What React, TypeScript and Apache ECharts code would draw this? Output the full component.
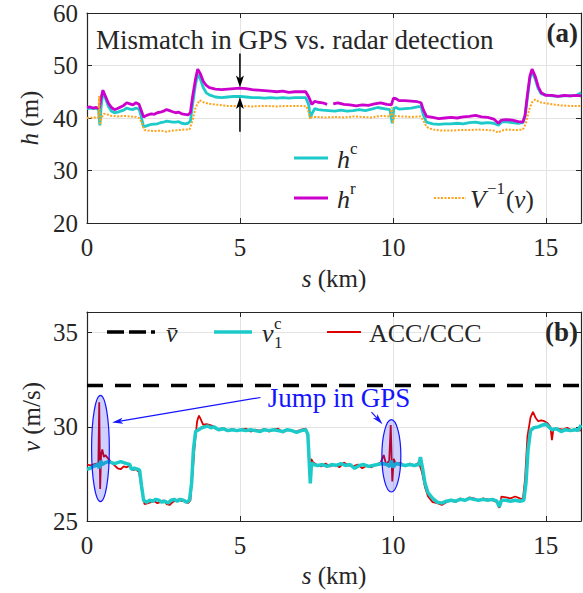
import React, { useEffect, useRef } from 'react';
import * as echarts from 'echarts';

const FONT = '"Liberation Serif", "Times New Roman", serif';
const AX = '#262626';
const GRIDC = '#e3e3e3';
const CYAN = '#1ccaca';
const MAGENTA = '#cc00cc';
const ORANGE = '#ffa31a';
const RED = '#dd0000';
const BLUE = '#1414ff';

const sMax = 16.15;
const xTickStep = 5;
const hMin = 20;
const hMax = 60;
const hStep = 10;
const vMin = 25;
const vMax = 36.1;
const vStep = 5;
const vBar = 32.2;

// (a) headway h^c (GPS)
const hcData: (number | string)[][] = [
  [0.0, 41.8], [0.1, 41.9], [0.2, 41.8], [0.3, 41.9], [0.38, 41.5], [0.42, 38.6], [0.46, 42.0], [0.52, 45.0],
  [0.6, 43.8], [0.7, 42.2], [0.8, 41.3], [0.9, 41.0], [1.0, 41.1], [1.1, 41.3], [1.2, 41.5], [1.3, 41.9],
  [1.4, 41.7], [1.5, 41.6], [1.6, 41.9], [1.7, 41.7], [1.75, 40.8], [1.85, 38.3], [1.95, 38.5], [2.1, 38.8],
  [2.3, 38.9], [2.4, 39.1], [2.5, 39.2], [2.6, 39.4], [2.7, 39.3], [2.8, 39.2], [2.9, 39.2], [3.0, 39.3],
  [3.1, 39.0], [3.2, 38.9], [3.3, 39.0], [3.38, 39.4], [3.45, 42.5], [3.55, 46.5], [3.62, 48.3], [3.7, 47.5],
  [3.8, 45.8], [3.9, 44.8], [4.0, 44.4], [4.2, 44.0], [4.4, 43.9], [4.6, 44.0], [4.8, 44.1], [5.0, 44.1],
  [5.2, 44.0], [5.4, 43.9], [5.6, 43.9], [5.8, 43.8], [6.0, 43.9], [6.2, 43.8], [6.4, 43.9], [6.6, 43.8],
  [6.8, 43.9], [7.0, 43.9], [7.15, 43.9], [7.25, 42.5], [7.3, 40.0], [7.35, 40.8], [7.45, 41.8], [7.55, 41.6],
  [7.7, 41.5], [7.9, 41.4], [8.1, 41.3], [8.3, 41.5], [8.5, 41.3], [8.7, 41.4], [8.9, 41.6], [9.1, 41.4],
  [9.3, 41.7], [9.5, 42.0], [9.7, 41.8], [9.9, 41.6], [9.98, 39.0], [10.03, 41.8], [10.1, 42.0], [10.2, 41.7],
  [10.4, 41.8], [10.6, 41.9], [10.8, 42.1], [10.92, 42.2], [11.0, 40.5], [11.1, 39.2], [11.3, 38.9], [11.5, 38.8],
  [11.7, 38.9], [11.9, 38.9], [12.1, 39.0], [12.3, 38.9], [12.5, 39.1], [12.7, 39.2], [12.9, 39.0], [13.1, 39.1],
  [13.3, 39.0], [13.45, 38.6], [13.55, 39.2], [13.7, 39.3], [13.9, 39.1], [14.1, 39.0], [14.25, 39.1], [14.32, 40.3],
  [14.4, 44.0], [14.48, 47.5], [14.55, 48.8], [14.65, 47.5], [14.75, 45.6], [14.85, 44.6], [15.0, 44.4], [15.2, 44.2],
  [15.4, 44.1], [15.6, 44.2], [15.8, 44.2], [16.0, 44.3], [16.15, 44.8],
];

// (a) headway h^r (radar)
const hrData: (number | string)[][] = [
  [0.0, 42.0], [0.1, 42.1], [0.2, 41.9], [0.3, 42.0], [0.4, 41.8], [0.45, 43.5], [0.52, 45.3], [0.6, 44.2],
  [0.7, 42.8], [0.8, 42.0], [0.9, 41.6], [1.0, 41.8], [1.1, 42.1], [1.2, 42.4], [1.3, 42.9], [1.4, 42.7],
  [1.5, 42.5], [1.6, 42.9], [1.7, 42.6], [1.75, 41.8], [1.85, 40.2], [1.95, 40.5], [2.1, 40.8], [2.2, 40.7],
  [2.3, 41.0], [2.4, 41.1], [2.5, 41.3], [2.6, 41.6], [2.7, 41.4], [2.8, 41.2], [2.9, 41.0], [3.0, 41.1],
  [3.1, 40.8], [3.2, 40.7], [3.3, 40.6], [3.38, 41.0], [3.45, 44.0], [3.55, 47.5], [3.62, 49.3], [3.7, 48.5],
  [3.8, 47.0], [3.9, 46.2], [4.0, 45.8], [4.2, 45.5], [4.4, 45.4], [4.6, 45.5], [4.8, 45.6], [5.0, 45.7],
  [5.2, 45.6], [5.4, 45.4], [5.6, 45.3], [5.8, 45.2], [6.0, 45.1], [6.2, 45.0], [6.4, 45.1], [6.6, 44.9],
  [6.8, 45.0], [7.0, 45.0], [7.15, 45.0], [7.25, 44.0], [7.35, 42.6], [7.45, 43.2], [7.55, 43.0], [7.7, 42.9],
  [7.85, 42.6], [7.95, '-'], [8.05, 42.7], [8.2, 42.9], [8.4, 42.6], [8.6, 42.5], [8.8, 42.3], [9.0, 42.5],
  [9.2, 42.4], [9.4, 42.7], [9.6, 42.9], [9.8, 42.6], [9.95, 42.5], [10.02, 43.8], [10.1, 43.7], [10.2, 43.3],
  [10.4, 43.3], [10.6, 43.2], [10.8, 43.1], [10.92, 42.9], [11.0, 41.5], [11.1, 40.3], [11.3, 40.1], [11.5, 39.9],
  [11.7, 40.0], [11.9, 40.1], [12.1, 40.0], [12.3, 40.2], [12.5, 40.3], [12.7, 40.5], [12.9, 40.2], [13.1, 40.1],
  [13.3, 39.8], [13.45, 39.0], [13.55, 39.6], [13.7, 39.7], [13.9, 39.6], [14.1, 39.3], [14.25, 39.2], [14.32, 40.5],
  [14.4, 44.5], [14.48, 48.0], [14.55, 49.3], [14.65, 48.0], [14.75, 46.0], [14.85, 44.8], [15.0, 44.3], [15.2, 44.3],
  [15.4, 44.1], [15.6, 44.3], [15.8, 44.2], [16.0, 44.3], [16.15, 44.2],
];

// (a) V^{-1}(v)
const vInvData: (number | string)[][] = [
  [0.0, 40.0], [0.1, 40.1], [0.2, 40.0], [0.3, 40.2], [0.37, 40.1], [0.4, 44.2], [0.43, 38.7], [0.47, 40.0],
  [0.55, 40.8], [0.65, 40.7], [0.8, 40.4], [1.0, 40.3], [1.2, 40.4], [1.4, 40.3], [1.6, 40.2], [1.7, 40.0],
  [1.78, 39.2], [1.88, 37.7], [2.0, 37.6], [2.2, 37.5], [2.4, 37.6], [2.6, 37.4], [2.8, 37.6], [3.0, 37.7],
  [3.2, 37.8], [3.35, 37.8], [3.45, 39.5], [3.55, 42.0], [3.68, 43.4], [3.8, 43.0], [4.0, 42.7], [4.3, 42.5],
  [4.6, 42.3], [5.0, 42.3], [5.4, 42.2], [5.8, 42.3], [6.2, 42.2], [6.6, 42.3], [7.0, 42.3], [7.18, 42.2],
  [7.25, 41.0], [7.3, 39.8], [7.35, 40.2], [7.5, 40.2], [7.8, 40.1], [8.1, 40.2], [8.4, 40.1], [8.7, 40.3],
  [9.0, 40.2], [9.3, 40.1], [9.6, 40.4], [9.9, 40.3], [9.97, 42.0], [10.0, 39.0], [10.05, 40.4], [10.3, 40.3],
  [10.6, 40.2], [10.9, 40.3], [11.0, 39.5], [11.1, 38.3], [11.3, 37.8], [11.6, 37.6], [11.9, 37.6], [12.2, 37.7],
  [12.5, 37.7], [12.8, 37.8], [13.1, 37.7], [13.3, 37.6], [13.45, 37.2], [13.55, 37.6], [13.7, 37.8], [14.0, 37.7],
  [14.25, 37.8], [14.35, 39.0], [14.45, 41.5], [14.55, 43.0], [14.65, 43.5], [14.8, 43.0], [15.0, 42.8], [15.2, 42.6],
  [15.5, 42.4], [15.8, 42.3], [16.15, 42.3],
];

// (b) v_1^c
const v1cData: number[][] = [
  [0.0, 27.75], [0.1, 27.8], [0.2, 27.9], [0.3, 27.95], [0.35, 28.05], [0.4, 27.8], [0.45, 28.2], [0.5, 28.0],
  [0.6, 28.1], [0.7, 28.15], [0.8, 28.1], [0.9, 28.05], [1.0, 28.1], [1.1, 28.15], [1.2, 28.1], [1.3, 28.05],
  [1.4, 28.0], [1.45, 27.75], [1.55, 27.8], [1.65, 27.75], [1.72, 27.7], [1.78, 26.9], [1.85, 26.1], [1.95, 26.0],
  [2.05, 26.1], [2.15, 26.05], [2.25, 26.15], [2.35, 26.1], [2.45, 26.0], [2.55, 26.05], [2.65, 25.95], [2.75, 26.1],
  [2.85, 26.15], [2.95, 26.05], [3.05, 26.15], [3.15, 26.1], [3.25, 26.0], [3.35, 26.1], [3.42, 27.0], [3.48, 28.8],
  [3.55, 29.75], [3.65, 29.85], [3.75, 29.95], [3.85, 30.0], [3.95, 30.05], [4.05, 29.95], [4.15, 30.0], [4.3, 29.85],
  [4.45, 29.9], [4.6, 29.8], [4.75, 29.85], [4.9, 29.8], [5.05, 29.85], [5.2, 29.8], [5.35, 29.85], [5.5, 29.8],
  [5.65, 29.75], [5.8, 29.85], [5.95, 29.8], [6.1, 29.85], [6.25, 29.8], [6.4, 29.75], [6.55, 29.85], [6.7, 29.8],
  [6.85, 29.7], [7.0, 29.8], [7.15, 29.85], [7.22, 29.6], [7.26, 28.3], [7.3, 27.0], [7.34, 28.1], [7.4, 28.0],
  [7.55, 27.95], [7.7, 28.0], [7.85, 27.9], [8.0, 28.0], [8.15, 27.95], [8.3, 28.05], [8.45, 27.95], [8.6, 28.0],
  [8.75, 27.8], [8.9, 27.95], [9.05, 28.0], [9.2, 27.9], [9.35, 27.95], [9.5, 28.0], [9.65, 28.05], [9.8, 28.0],
  [9.9, 27.9], [9.95, 28.2], [10.0, 27.85], [10.1, 28.05], [10.25, 28.0], [10.4, 27.95], [10.55, 28.0], [10.7, 27.95],
  [10.85, 28.0], [10.9, 28.4], [10.97, 27.8], [11.05, 27.0], [11.15, 26.5], [11.3, 26.2], [11.45, 26.0], [11.6, 25.95],
  [11.75, 26.05], [11.9, 26.1], [12.05, 26.05], [12.2, 26.15], [12.35, 26.1], [12.5, 26.2], [12.65, 26.15], [12.8, 26.1],
  [12.95, 26.15], [13.1, 26.1], [13.25, 26.15], [13.4, 26.05], [13.48, 25.75], [13.55, 26.1], [13.7, 26.1], [13.85, 26.05],
  [14.0, 26.1], [14.15, 26.05], [14.28, 26.1], [14.35, 27.0], [14.42, 28.8], [14.5, 29.8], [14.6, 29.95], [14.75, 30.0],
  [14.9, 30.1], [15.0, 30.15], [15.1, 30.0], [15.2, 29.85], [15.35, 29.9], [15.5, 29.75], [15.65, 29.85], [15.8, 29.8],
  [15.95, 29.85], [16.05, 29.8], [16.15, 30.1],
];

// (b) ACC/CCC
const accData: number[][] = [
  [0.0, 28.0], [0.1, 27.95], [0.2, 28.0], [0.3, 28.05], [0.37, 27.9], [0.4, 31.3], [0.43, 26.7], [0.46, 28.5],
  [0.5, 28.8], [0.55, 28.4], [0.6, 28.5], [0.7, 28.3], [0.8, 28.1], [0.9, 27.95], [1.0, 27.8], [1.1, 27.75],
  [1.2, 27.9], [1.3, 27.85], [1.4, 27.95], [1.5, 27.7], [1.6, 27.75], [1.7, 27.6], [1.78, 26.8], [1.88, 25.9],
  [2.0, 25.95], [2.1, 26.0], [2.2, 26.05], [2.3, 25.95], [2.4, 26.0], [2.5, 26.1], [2.6, 25.9], [2.7, 25.85],
  [2.8, 26.0], [2.9, 26.1], [3.0, 26.15], [3.1, 26.05], [3.2, 26.1], [3.3, 25.95], [3.38, 26.1], [3.45, 27.5],
  [3.52, 29.0], [3.6, 30.3], [3.66, 30.6], [3.72, 30.4], [3.8, 30.1], [3.9, 30.15], [4.0, 30.1], [4.1, 30.05],
  [4.2, 29.9], [4.3, 29.85], [4.45, 29.95], [4.6, 29.8], [4.75, 29.9], [4.9, 29.8], [5.05, 29.85], [5.2, 29.9],
  [5.35, 29.75], [5.5, 29.85], [5.65, 29.8], [5.8, 29.9], [5.95, 29.75], [6.1, 29.85], [6.25, 29.9], [6.4, 29.7],
  [6.55, 29.85], [6.7, 29.8], [6.85, 29.75], [7.0, 29.85], [7.15, 29.9], [7.22, 29.5], [7.28, 27.7], [7.33, 28.3],
  [7.4, 28.1], [7.5, 28.0], [7.65, 27.9], [7.8, 28.05], [7.95, 27.9], [8.1, 28.0], [8.25, 27.85], [8.4, 28.1],
  [8.55, 27.95], [8.7, 27.9], [8.85, 28.0], [9.0, 27.8], [9.15, 27.95], [9.3, 27.85], [9.45, 28.0], [9.6, 28.1],
  [9.7, 28.5], [9.78, 28.0], [9.88, 28.2], [9.93, 30.1], [9.98, 27.1], [10.03, 28.3], [10.1, 28.0], [10.25, 28.1],
  [10.4, 27.9], [10.55, 28.05], [10.7, 27.95], [10.85, 28.1], [10.95, 27.6], [11.05, 26.8], [11.15, 26.3], [11.3, 26.0],
  [11.45, 25.95], [11.6, 25.85], [11.75, 26.0], [11.9, 26.1], [12.05, 26.0], [12.2, 26.2], [12.35, 26.1], [12.5, 26.25],
  [12.65, 26.2], [12.8, 26.1], [12.95, 26.2], [13.1, 26.15], [13.25, 26.1], [13.4, 26.0], [13.48, 25.7], [13.55, 26.3],
  [13.7, 26.25], [13.85, 26.2], [14.0, 26.3], [14.15, 26.2], [14.25, 26.15], [14.32, 27.2], [14.4, 29.5], [14.5, 30.5],
  [14.58, 30.8], [14.66, 30.5], [14.75, 30.3], [14.85, 30.35], [14.95, 30.3], [15.05, 30.2], [15.15, 30.0], [15.2, 29.3],
  [15.25, 29.9], [15.4, 29.9], [15.55, 29.85], [15.7, 29.95], [15.85, 29.8], [16.0, 29.85], [16.15, 29.8],
];

const vBarData: number[][] = [[0, vBar], [sMax, vBar]];

// annotations (data coordinates)
const mismatchS = 5;
const mismatchTop = [52.3, 45.8];
const mismatchBottom = [37.4, 44.0];
const jumpEllipses = [
  { s: 0.44, v: 28.85, rs: 0.29, rv: 2.82 },
  { s: 9.95, v: 28.46, rs: 0.31, rv: 1.92 },
];
const jumpArrows = [
  { from: [5.67, 31.56], to: [0.82, 30.23] },
  { from: [9.3, 30.78], to: [9.66, 30.14] },
];

const FS = 25;

function arrow(a: number[], b: number[], color: string, lw: number, hl: number, hw: number) {
  const dx = b[0] - a[0];
  const dy = b[1] - a[1];
  const L = Math.hypot(dx, dy);
  const ux = dx / L;
  const uy = dy / L;
  const bx = b[0] - ux * hl;
  const by = b[1] - uy * hl;
  const nx = -uy;
  const ny = ux;
  const ix = b[0] - ux * hl * 0.75;
  const iy = b[1] - uy * hl * 0.75;
  return [
    { type: 'line', z: 100, shape: { x1: a[0], y1: a[1], x2: ix, y2: iy }, style: { stroke: color, lineWidth: lw } },
    {
      type: 'polygon', z: 100,
      shape: { points: [[b[0], b[1]], [bx + (nx * hw) / 2, by + (ny * hw) / 2], [ix, iy], [bx - (nx * hw) / 2, by - (ny * hw) / 2]] },
      style: { fill: color },
    },
  ];
}

function txt(x: number, y: number, text: string, opts: any = {}) {
  return {
    type: 'text', z: 110, x, y, rotation: opts.rotation || 0,
    style: {
      text,
      fontFamily: FONT,
      fontSize: opts.fontSize || FS,
      fontStyle: opts.italic ? 'italic' : 'normal',
      fontWeight: opts.bold ? 'bold' : 'normal',
      fill: opts.color || AX,
      align: opts.align || 'left',
      verticalAlign: 'middle',
      rich: opts.rich,
    },
  };
}

const richBase = {
  i: { fontFamily: FONT, fontSize: FS, fontStyle: 'italic', fill: AX },
  n: { fontFamily: FONT, fontSize: FS, fill: AX },
};

function axisPair(gridIndex: number, min: number, max: number, interval: number, isX: boolean) {
  const common = {
    gridIndex, type: 'value', min, max, interval,
    axisLine: { show: true, onZero: false, lineStyle: { color: AX, width: 1.2 } },
    axisTick: { show: true, inside: true, length: 5, lineStyle: { color: AX, width: 1 } },
  };
  return [
    {
      ...common,
      position: isX ? 'bottom' : 'left',
      axisLabel: { show: true, margin: isX ? 12 : 9, fontFamily: FONT, fontSize: FS, color: AX, showMaxLabel: max % interval === 0 },
      splitLine: { show: true, lineStyle: { color: GRIDC, width: 1 } },
    },
    {
      ...common,
      position: isX ? 'top' : 'right',
      axisLabel: { show: false },
      splitLine: { show: false },
    },
  ];
}

export default function App() {
  const ref = useRef<HTMLDivElement>(null);
  useEffect(() => {
    if (!ref.current) return;
    const chart = echarts.init(ref.current, undefined, { renderer: 'svg' });
    const option: any = {
      animation: false,
      backgroundColor: '#ffffff',
      grid: [
        { left: 87, top: 13, width: 494, height: 210 },
        { left: 87, top: 312, width: 494, height: 209 },
      ],
      xAxis: [...axisPair(0, 0, sMax, xTickStep, true), ...axisPair(1, 0, sMax, xTickStep, true)],
      yAxis: [...axisPair(0, hMin, hMax, hStep, false), ...axisPair(1, vMin, vMax, vStep, false)],
      series: [
        { name: 'hc', type: 'line', xAxisIndex: 0, yAxisIndex: 0, data: hcData, symbol: 'none', silent: true, lineStyle: { color: CYAN, width: 2.8 }, z: 3 },
        { name: 'hr', type: 'line', xAxisIndex: 0, yAxisIndex: 0, data: hrData, symbol: 'none', silent: true, connectNulls: false, lineStyle: { color: MAGENTA, width: 2.8 }, z: 4 },
        { name: 'vinv', type: 'line', xAxisIndex: 0, yAxisIndex: 0, data: vInvData, symbol: 'none', silent: true, lineStyle: { color: ORANGE, width: 2, type: [2, 1.5] }, z: 5 },
        { name: 'vbar', type: 'line', xAxisIndex: 2, yAxisIndex: 2, data: vBarData, symbol: 'none', silent: true, lineStyle: { color: '#000', width: 3.5, type: [16, 12] }, z: 3 },
        { name: 'acc', type: 'line', xAxisIndex: 2, yAxisIndex: 2, data: accData, symbol: 'none', silent: true, lineStyle: { color: RED, width: 1.8 }, z: 4 },
        { name: 'v1c', type: 'line', xAxisIndex: 2, yAxisIndex: 2, data: v1cData, symbol: 'none', silent: true, lineStyle: { color: CYAN, width: 3.5 }, z: 5 },
      ],
    };
    chart.setOption(option);

    const pa = (s: number, h: number) => chart.convertToPixel({ xAxisIndex: 0, yAxisIndex: 0 } as any, [s, h]) as number[];
    const pb = (s: number, v: number) => chart.convertToPixel({ xAxisIndex: 2, yAxisIndex: 2 } as any, [s, v]) as number[];

    const g: any[] = [];
    // (a) mismatch arrows
    g.push(...arrow(pa(mismatchS, mismatchTop[0]), pa(mismatchS, mismatchTop[1]), '#000', 1.5, 12, 8));
    g.push(...arrow(pa(mismatchS, mismatchBottom[0]), pa(mismatchS, mismatchBottom[1]), '#000', 1.5, 12, 8));
    g.push(txt(96, 40, 'Mismatch in GPS vs. radar detection', { fontSize: 27 }));
    g.push(txt(578, 33, '(a)', { bold: true, align: 'right', fontSize: 27 }));

    // (a) legend
    g.push({ type: 'line', z: 100, shape: { x1: 294, y1: 158, x2: 328, y2: 158 }, style: { stroke: CYAN, lineWidth: 2.8 } });
    g.push(txt(337, 159, 'h', { italic: true, fontSize: 26 }));
    g.push(txt(350, 148, 'c', { fontSize: 17 }));
    g.push({ type: 'line', z: 100, shape: { x1: 294, y1: 198, x2: 328, y2: 198 }, style: { stroke: MAGENTA, lineWidth: 2.8 } });
    g.push(txt(337, 199, 'h', { italic: true, fontSize: 26 }));
    g.push(txt(350, 188, 'r', { fontSize: 17 }));
    g.push({ type: 'line', z: 100, shape: { x1: 434, y1: 198, x2: 466, y2: 198 }, style: { stroke: ORANGE, lineWidth: 2, lineDash: [2, 1.5] } });
    g.push(txt(470, 199, 'V', { italic: true, fontSize: 26 }));
    g.push(txt(487, 188, '−1', { fontSize: 17 }));
    g.push(txt(506, 199, '{n|(}{i|v}{n|)}', { rich: richBase }));

    // axis names
    g.push(txt(334, 278, '{i|s}{n| (km)}', { align: 'center', rich: richBase }));
    g.push(txt(334, 575, '{i|s}{n| (km)}', { align: 'center', rich: richBase }));
    g.push(txt(29, 118, '{i|h}{n| (m)}', { align: 'center', rich: richBase, rotation: Math.PI / 2 }));
    g.push(txt(31, 417, '{i|v}{n| (m/s)}', { align: 'center', rich: richBase, rotation: Math.PI / 2 }));

    // (b) ellipses
    jumpEllipses.forEach((e) => {
      const c = pb(e.s, e.v);
      const r1 = pb(e.s + e.rs, e.v + e.rv);
      g.push({
        type: 'ellipse', z: 90,
        shape: { cx: c[0], cy: c[1], rx: Math.abs(r1[0] - c[0]), ry: Math.abs(r1[1] - c[1]) },
        style: { fill: 'rgba(20,20,255,0.2)', stroke: BLUE, lineWidth: 1.2 },
      });
    });
    jumpArrows.forEach((a) => {
      g.push(...arrow(pb(a.from[0], a.from[1]), pb(a.to[0], a.to[1]), BLUE, 1.2, 11, 6));
    });
    g.push(txt(339, 398, 'Jump in GPS', { align: 'center', color: BLUE, fontSize: 27 }));
    g.push(txt(578, 332, '(b)', { bold: true, align: 'right', fontSize: 27 }));

    // (b) legend
    g.push({ type: 'line', z: 100, shape: { x1: 107, y1: 332, x2: 155, y2: 332 }, style: { stroke: '#000', lineWidth: 3.5, lineDash: [17, 5] } });
    g.push(txt(166, 333, 'v\u0304', { italic: true, fontSize: 26 }));
    g.push({ type: 'line', z: 100, shape: { x1: 214, y1: 332, x2: 252, y2: 332 }, style: { stroke: CYAN, lineWidth: 3.5 } });
    g.push(txt(262, 333, 'v', { italic: true, fontSize: 26 }));
    g.push(txt(274, 323, 'c', { fontSize: 17 }));
    g.push(txt(274, 342, '1', { fontSize: 17 }));
    g.push({ type: 'line', z: 100, shape: { x1: 327, y1: 332, x2: 361, y2: 332 }, style: { stroke: RED, lineWidth: 1.8 } });
    g.push(txt(369, 333, 'ACC/CCC', { fontSize: 26 }));

    chart.setOption({ graphic: g });
    return () => chart.dispose();
  }, []);
  return <div ref={ref} style={{ position: 'fixed', left: 0, top: 0, width: 583, height: 593, background: '#fff' }} />;
}
